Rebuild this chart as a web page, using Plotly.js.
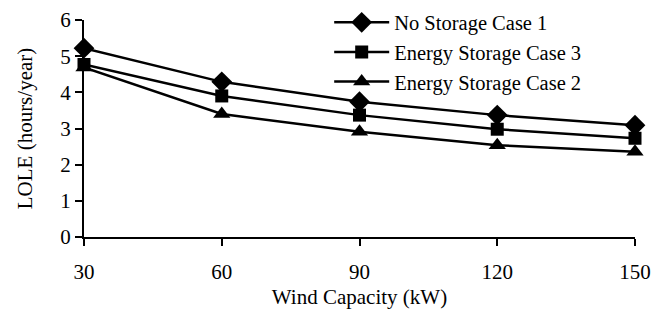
<!DOCTYPE html>
<html><head><meta charset="utf-8">
<script src="https://cdn.plot.ly/plotly-3.0.1.min.js"></script>
<style>html,body{margin:0;padding:0;background:#fff}</style>
</head><body><div id="chart" style="width:665px;height:310px"></div>
<script>
const windCapacity = [30, 60, 90, 120, 150];
const noStorageCase1 = [5.22, 4.29, 3.74, 3.37, 3.09];
const storageCase3 = [4.77, 3.9, 3.37, 2.98, 2.73];
const storageCase2 = [4.69, 3.4, 2.91, 2.54, 2.36];
const xTicks = [30, 60, 90, 120, 150];
const yTicks = [0, 1, 2, 3, 4, 5, 6];

const font = {family: 'Liberation Serif', size: 21, color: '#000'};
function tr(name, y, symbol, size, g) {
  return {x: windCapacity, y: y, name: name, type: 'scatter', mode: 'lines+markers',
    line: {color: '#000', width: 2.5}, marker: {symbol: symbol, size: size, color: '#000'},
    cliponaxis: false, legendgroup: g};
}
const data = [
  tr('No Storage Case 1', noStorageCase1, 'diamond', 16, 'a'),
  tr('Energy Storage Case 3', storageCase3, 'square', 13, 'b'),
  tr('Energy Storage Case 2', storageCase2, 'triangle-up', 15, 'c')
];
const layout = {
  width: 665, height: 310,
  margin: {l: 84, r: 30, t: 20, b: 73, autoexpand: false},
  paper_bgcolor: '#fff', plot_bgcolor: '#fff',
  font: font,
  showlegend: true,
  legend: {x: 0.445, xref: 'paper', y: 0.992, yref: 'container', xanchor: 'left', yanchor: 'top',
    bgcolor: 'rgba(0,0,0,0)', font: {family: 'Liberation Serif', size: 20.5, color: '#000'},
    tracegroupgap: 0, itemwidth: 55},
  xaxis: {range: [30, 150], tickvals: xTicks, ticktext: xTicks.map(String),
    showgrid: false, zeroline: false, showline: true, linecolor: '#000', linewidth: 2,
    ticks: 'outside', ticklen: 7, tickwidth: 2, tickcolor: '#000', ticklabelstandoff: 8,
    title: {text: 'Wind Capacity (kW)', font: font, standoff: 6}},
  yaxis: {range: [0, 6], tickvals: yTicks, showgrid: false, zeroline: false,
    showline: true, linecolor: '#000', linewidth: 2,
    ticks: 'outside', ticklen: 7, tickwidth: 2, tickcolor: '#000',
    title: {text: 'LOLE (hours/year)', font: font, standoff: 22}}
};
Plotly.newPlot('chart', data, layout, {displayModeBar: false, staticPlot: true});
</script></body></html>
